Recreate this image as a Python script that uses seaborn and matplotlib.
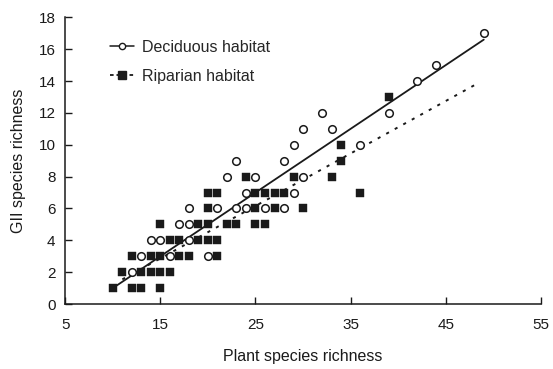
import numpy as np
import pandas as pd
import matplotlib
matplotlib.use("Agg")
import matplotlib.pyplot as plt
from matplotlib.lines import Line2D
import seaborn as sns

# ---- data ----
dec_x = [12, 13, 16, 20, 14, 15, 18, 17, 18, 18, 21, 23, 24, 26, 28, 24, 29,
         22, 25, 30, 23, 28, 29, 36, 30, 33, 32, 39, 42, 44, 49]
dec_y = [2, 3, 3, 3, 4, 4, 4, 5, 5, 6, 6, 6, 6, 6, 6, 7, 7,
         8, 8, 8, 9, 9, 10, 10, 11, 11, 12, 12, 14, 15, 17]

rip_x = [10, 12, 13, 15,
         11, 13, 14, 15, 16,
         12, 14, 15, 17, 18, 21,
         16, 17, 19, 20, 21,
         15, 19, 20, 22, 23, 25, 26,
         20, 25, 27, 30,
         20, 21, 25, 26, 27, 28, 36,
         24, 29, 33,
         34, 34, 39]
rip_y = [1, 1, 1, 1,
         2, 2, 2, 2, 2,
         3, 3, 3, 3, 3, 3,
         4, 4, 4, 4, 4,
         5, 5, 5, 5, 5, 5, 5,
         6, 6, 6, 6,
         7, 7, 7, 7, 7, 7, 7,
         8, 8, 8,
         9, 10, 13]

# fitted lines (end points)
dec_fit_x = [10, 49]
dec_fit_y = [1.0, 16.6]
rip_fit_x = [11, 48.5]
rip_fit_y = [1.55, 13.9]

x_ticks = [5, 15, 25, 35, 45, 55]
y_ticks = [0, 2, 4, 6, 8, 10, 12, 14, 16, 18]
labels = ["Deciduous habitat", "Riparian habitat"]

# ---- plotting ----
sns.set_style("ticks")
plt.rcParams["font.family"] = ["Liberation Sans", "DejaVu Sans"]

dec = pd.DataFrame({"x": dec_x, "y": dec_y})
rip = pd.DataFrame({"x": rip_x, "y": rip_y})
dfit = pd.DataFrame({"x": dec_fit_x, "y": dec_fit_y})
rfit = pd.DataFrame({"x": rip_fit_x, "y": rip_fit_y})

fig = plt.figure(figsize=(5.53, 3.69), dpi=100)
ax = fig.add_axes([0.118, 0.176, 0.860, 0.777])

ink = "#1a1a1a"
sns.lineplot(data=dfit, x="x", y="y", ax=ax, color=ink, lw=1.3, zorder=3)
sns.lineplot(data=rfit, x="x", y="y", ax=ax, color=ink, lw=1.4,
             linestyle=(0, (1.6, 3.4)), zorder=3)
sns.scatterplot(data=rip, x="x", y="y", ax=ax, marker="s", s=40,
                color=ink, edgecolor=ink, linewidth=0.3, zorder=4)
sns.scatterplot(data=dec, x="x", y="y", ax=ax, marker="o", s=30,
                facecolor="white", edgecolor=ink, linewidth=1.1, zorder=5)

ax.set_xlim(5, 55)
ax.set_ylim(0, 18)
ax.set_xticks(x_ticks)
ax.set_yticks(y_ticks)
ax.tick_params(direction="in", length=5, width=1.0, labelsize=11,
               colors=ink)
ax.tick_params(axis="x", pad=10)
ax.tick_params(axis="y", pad=7)
for s in ["top", "right"]:
    ax.spines[s].set_visible(False)
for s in ["left", "bottom"]:
    ax.spines[s].set_linewidth(1.1)
    ax.spines[s].set_color(ink)

ax.set_xlabel("Plant species richness", fontsize=11.5, color=ink, labelpad=12)
ax.set_ylabel("GII species richness", fontsize=11.5, color=ink, labelpad=9)

handles = [
    Line2D([], [], color=ink, lw=1.1, marker="o", markersize=4.5,
           markerfacecolor="white", markeredgecolor=ink, markeredgewidth=1.0),
    Line2D([], [], color=ink, lw=1.3, linestyle=(0, (2.0, 1.6)), marker="s",
           markersize=5.5, markerfacecolor=ink, markeredgecolor=ink),
]
ax.legend(handles, labels, loc="upper left", bbox_to_anchor=(0.095, 0.922),
          frameon=False, fontsize=11.5, handlelength=1.5, handletextpad=0.5,
          labelspacing=0.9, borderpad=0, borderaxespad=0)

fig.savefig("out.png", dpi=100)
